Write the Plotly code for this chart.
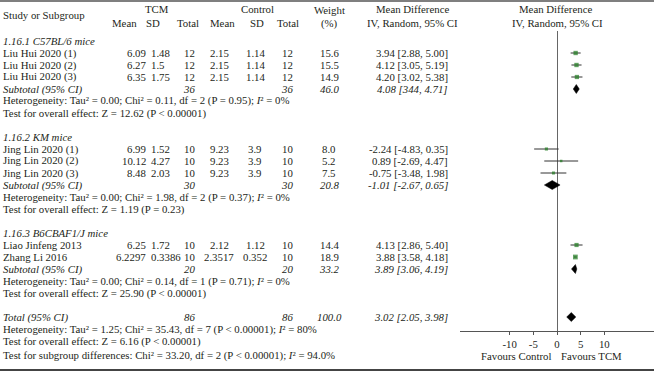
import math
import plotly.graph_objects as go

W, H = 654, 374
FONT = "Liberation Serif"
FS = 10.8      # running text
FSN = 10.8     # numeric columns
TXT = "#231f20"
GREEN = "#1e7b1e"

# ---------------- data ----------------
group_titles = ["1.16.1 C57BL/6 mice", "1.16.2 KM mice", "1.16.3 B6CBAF1/J mice"]
study_names = ["Liu Hui 2020 (1)", "Liu Hui 2020 (2)", "Liu Hui 2020 (3)",
               "Jing Lin 2020 (1)", "Jing Lin 2020 (2)", "Jing Lin 2020 (3)",
               "Liao Jinfeng 2013", "Zhang Li 2016"]
study_group = [0, 0, 0, 1, 1, 1, 2, 2]
tcm_mean = ["6.09", "6.27", "6.35", "6.99", "10.12", "8.48", "6.25", "6.2297"]
tcm_sd = ["1.48", "1.5", "1.75", "1.52", "4.27", "2.03", "1.72", "0.3386"]
tcm_n = [12, 12, 12, 10, 10, 10, 10, 10]
ctl_mean = ["2.15", "2.15", "2.15", "9.23", "9.23", "9.23", "2.12", "2.3517"]
ctl_sd = ["1.14", "1.14", "1.14", "3.9", "3.9", "3.9", "1.12", "0.352"]
ctl_n = [12, 12, 12, 10, 10, 10, 10, 10]
weight = [15.6, 15.5, 14.9, 8.0, 5.2, 7.5, 14.4, 18.9]
md = [3.94, 4.12, 4.20, -2.24, 0.89, -0.75, 4.13, 3.88]
md_lo = [2.88, 3.05, 3.02, -4.83, -2.69, -3.48, 2.86, 3.58]
md_hi = [5.00, 5.19, 5.38, 0.35, 4.47, 1.98, 5.40, 4.18]

sub_tcm_n = [36, 30, 20]
sub_ctl_n = [36, 30, 20]
sub_weight = [46.0, 20.8, 33.2]
sub_md = [4.08, -1.01, 3.89]
sub_lo = [3.44, -2.67, 3.06]
sub_hi = [4.71, 0.65, 4.19]
sub_ci_label = ["4.08 [344, 4.71]", "-1.01 [-2.67, 0.65]", "3.89 [3.06, 4.19]"]
sub_het = [
    "Heterogeneity: Tau² = 0.00; Chi² = 0.11, df = 2 (P = 0.95); <i>I</i>² = 0%",
    "Heterogeneity: Tau² = 0.00; Chi² = 1.98, df = 2 (P = 0.37); <i>I</i>² = 0%",
    "Heterogeneity: Tau² = 0.00; Chi² = 0.14, df = 1 (P = 0.71); <i>I</i>² = 0%",
]
sub_z = [
    "Test for overall effect: Z = 12.62 (P &lt; 0.00001)",
    "Test for overall effect: Z = 1.19 (P = 0.23)",
    "Test for overall effect: Z = 25.90 (P &lt; 0.00001)",
]
total_tcm_n = 86
total_ctl_n = 86
total_weight = 100.0
total_md, total_lo, total_hi = 3.02, 2.05, 3.98
total_het = "Heterogeneity: Tau² = 1.25; Chi² = 35.43, df = 7 (P &lt; 0.00001); <i>I</i>² = 80%"
total_z = "Test for overall effect: Z = 6.16 (P &lt; 0.00001)"
subgroup_diff = "Test for subgroup differences: Chi² = 33.20, df = 2 (P &lt; 0.00001); <i>I</i>² = 94.0%"
x_ticks = [-10, -5, 0, 5, 10]
fav_left, fav_right = "Favours Control", "Favours TCM"

# ---------------- layout geometry (pixels) ----------------
ROW = 12
PLOT_TOP, PLOT_BOTTOM = 31, 331
X_LEFT = 460
COLS = {
    "study": (2, "left"),
    "tcm_mean": (147, "right"),
    "tcm_sd": (150, "left"),
    "tcm_n": (189, "center"),
    "ctl_mean": (219, "center"),
    "ctl_sd": (255, "center"),
    "ctl_n": (287, "center"),
    "weight": (329, "center"),
    "ci": (449, "right"),
}

annotations = []


def txt(text, x, y, anchor="left", italic=False, size=FS):
    if italic:
        text = "<i>" + text + "</i>"
    annotations.append(dict(
        text=text, x=x / W, y=1 - y / H, xref="paper", yref="paper",
        xanchor=anchor, yanchor="middle", showarrow=False,
        font=dict(family=FONT, size=size, color=TXT), borderpad=0))


def col(name, text, y, italic=False):
    x, a = COLS[name]
    txt(text, x, y, a, italic, FS if name == "study" else FSN)


# headers
txt("Study or Subgroup", 2, 15)
txt("TCM", 157, 9, "center")
txt("Control", 257, 9, "center")
txt("Weight", 329, 10, "center")
txt("Mean Difference", 412, 9, "center")
txt("Mean Difference", 555, 9, "center")
for label, x in [("Mean", 124), ("SD", 153), ("Total", 188), ("Mean", 222),
                 ("SD", 257), ("Total", 288), ("(%)", 329),
                 ("IV, Random, 95% CI", 412), ("IV, Random, 95% CI", 557)]:
    txt(label, x, 23, "center")

# body rows
study_y = [0] * len(study_names)
sub_y = [0] * 3
y = 41
for g in range(3):
    txt(group_titles[g], 2, y, italic=True)
    for i, gi in enumerate(study_group):
        if gi != g:
            continue
        y += ROW
        study_y[i] = y
        col("study", study_names[i], y)
        col("tcm_mean", tcm_mean[i], y)
        col("tcm_sd", tcm_sd[i], y)
        col("tcm_n", str(tcm_n[i]), y)
        col("ctl_mean", ctl_mean[i], y)
        col("ctl_sd", ctl_sd[i], y)
        col("ctl_n", str(ctl_n[i]), y)
        col("weight", f"{weight[i]:.1f}", y)
        col("ci", f"{md[i]:.2f} [{md_lo[i]:.2f}, {md_hi[i]:.2f}]", y)
    y += ROW
    sub_y[g] = y
    col("study", "Subtotal (95% CI)", y, italic=True)
    col("tcm_n", str(sub_tcm_n[g]), y, italic=True)
    col("ctl_n", str(sub_ctl_n[g]), y, italic=True)
    col("weight", f"{sub_weight[g]:.1f}", y, italic=True)
    col("ci", sub_ci_label[g], y, italic=True)
    y += ROW
    txt(sub_het[g], 2, y)
    y += ROW
    txt(sub_z[g], 2, y)
    y += 2 * ROW

total_y = y
col("study", "Total (95% CI)", total_y, italic=True)
col("tcm_n", str(total_tcm_n), total_y, italic=True)
col("ctl_n", str(total_ctl_n), total_y, italic=True)
col("weight", f"{total_weight:.1f}", total_y, italic=True)
col("ci", f"{total_md:.2f} [{total_lo:.2f}, {total_hi:.2f}]", total_y, italic=True)
txt(total_het, 2, total_y + ROW)
txt(total_z, 2, total_y + 2 * ROW)
txt(subgroup_diff, 2, total_y + 2 * ROW + 14)

txt(fav_left, 516, 356, "center")
txt(fav_right, 591, 356, "center")

# ---------------- marks ----------------
fig = go.Figure()

fig.add_trace(go.Scatter(
    x=md, y=study_y, mode="markers",
    marker=dict(symbol="square", color=GREEN,
                size=[math.sqrt(w) * 1.1 for w in weight], line=dict(width=0)),
    error_x=dict(type="data", symmetric=False,
                 array=[h - m for h, m in zip(md_hi, md)],
                 arrayminus=[m - l for m, l in zip(md, md_lo)],
                 color="#333333", thickness=1, width=0),
    hoverinfo="skip"))

HALF = 4.5
diamonds = list(zip(sub_md, sub_lo, sub_hi, sub_y)) + [(total_md, total_lo, total_hi, total_y)]
for m, lo, hi, yy in diamonds:
    fig.add_trace(go.Scatter(
        x=[lo, m, hi, m, lo], y=[yy, yy - HALF, yy, yy + HALF, yy],
        mode="lines", fill="toself", fillcolor="black",
        line=dict(color="black", width=0.5), hoverinfo="skip"))

shapes = [
    dict(type="line", xref="paper", yref="paper", x0=0, x1=1,
         y0=1 - 1 / H, y1=1 - 1 / H, line=dict(color="#555555", width=1.5)),
    dict(type="line", xref="paper", yref="paper", x0=0, x1=1,
         y0=1 - 370 / H, y1=1 - 370 / H, line=dict(color="#444444", width=2)),
]

fig.update_layout(
    width=W, height=H, margin=dict(l=0, r=0, t=0, b=0),
    paper_bgcolor="white", plot_bgcolor="white", showlegend=False,
    annotations=annotations, shapes=shapes,
    xaxis=dict(domain=[X_LEFT / W, 1], range=[-20.5, 20.5],
               tickvals=x_ticks, ticktext=[str(t) for t in x_ticks],
               ticks="outside", ticklen=3, tickcolor="#555555",
               showline=True, linecolor="#555555", linewidth=1,
               zeroline=True, zerolinecolor="#666666", zerolinewidth=1,
               showgrid=False, fixedrange=True,
               tickfont=dict(family=FONT, size=FSN, color=TXT)),
    yaxis=dict(domain=[1 - PLOT_BOTTOM / H, 1 - PLOT_TOP / H],
               range=[PLOT_BOTTOM, PLOT_TOP], visible=False,
               showgrid=False, zeroline=False, fixedrange=True),
)

fig.write_html("out.html", config={"displayModeBar": False},
               post_script="document.body.style.margin='0px';document.body.style.overflow='hidden';")
